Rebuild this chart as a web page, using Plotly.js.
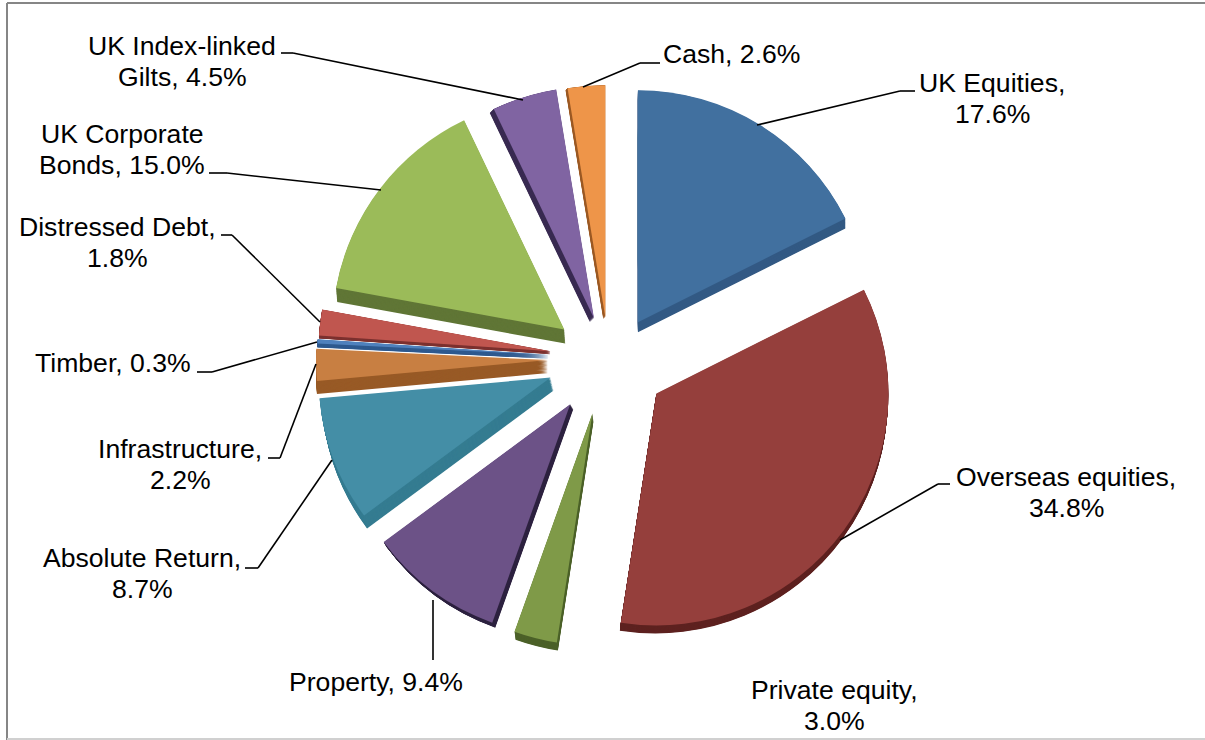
<!DOCTYPE html>
<html><head><meta charset="utf-8">
<script src="https://cdn.plot.ly/plotly-3.0.1.min.js"></script>
<style>html,body{margin:0;padding:0;background:#fff}#c{width:1205px;height:740px}</style>
</head><body><div id="c"></div>
<script>
const W = 1205, H = 740;
const slices = ["UK Equities","Overseas equities","Private equity","Property","Absolute Return","Infrastructure","Timber","Distressed Debt","UK Corporate Bonds","UK Index-linked Gilts","Cash"];
const shares = [17.6,34.8,3.0,9.4,8.7,2.2,0.3,1.8,15.0,4.5,2.6];
const topColors = ["#41709f","#953f3c","#7f9a48","#6c5287","#448ea6","#c87f42","#4f81bd","#c0564f","#9bbb59","#8064a2","#ee9549"];
const sideColors = ["#335a84","#5e2220","#4c6129","#2e2340","#357c91","#985a26","#2f5a8f","#7d3230","#607636","#3a2c52","#9c5a25"];
const pullPx = [55,55,55,55,55,55,55,55,55,50,45];
const nudgeX = [3,6,0,-3,-4,-3,-2,-1,2,3,3];
const nudgeY = [9,1,0,0,-2,-1,-2,-2,3,6,2];
const sideDx = [0,-1,1,3,3,0,0,0,1,-4,-2];
const sideDy = [10,8,8,5,13,13,4,3,14,4,2];
const labelLines = [["UK Equities,","17.6%"],["Overseas equities,","34.8%"],["Private equity,","3.0%"],["Property, 9.4%"],["Absolute Return,","8.7%"],["Infrastructure,","2.2%"],["Timber, 0.3%"],["Distressed Debt,","1.8%"],["UK Corporate","Bonds, 15.0%"],["UK Index-linked","Gilts, 4.5%"],["Cash, 2.6%"]];
const labelX = [992,1066,834,376,142,180,113,117,122,182,731];
const labelY = [83,477,690,682,558,449,363,227,134,46,54];
const lineGap = 31;
const leaders = [
 [[915,91],[900,91],[757,125]],
 [[950,484],[938,484],[840,540]],
 [],
 [[433,600],[433,660]],
 [[245,568],[258,568],[332,460]],
 [[268,458],[280,458],[316,364]],
 [[197,372],[212,372],[317,342]],
 [[221,235],[232,235],[320,322]],
 [[209,173],[227,173],[381,190]],
 [[281,53],[293,53],[523,100]],
 [[660,63],[640,63],[583,87]]
];
const cx = 606, cy = 360, R = 232;
const pulls = pullPx.map(p => p / R);
const half = R * (1 + Math.max(...pulls));
const dom = (dx, dy) => ({
  x: [(cx + dx - half) / W, (cx + dx + half) / W],
  y: [1 - (cy + dy + half) / H, 1 - (cy + dy - half) / H]
});
const base = {
  type: "pie", values: shares, labels: slices, sort: false, direction: "clockwise", rotation: 0,
  pull: pulls, textinfo: "none", hoverinfo: "none", showlegend: false
};
const only = (i, color) => slices.map((_, j) => j === i ? color : "rgba(0,0,0,0)");
const traces = [];
const stepCount = 16;
slices.forEach((s, i) => {
  for (let n = stepCount; n >= 1; n--) {
    const t = n / stepCount;
    traces.push(Object.assign({}, base, {
      domain: dom(nudgeX[i] + sideDx[i] * t, nudgeY[i] + sideDy[i] * t),
      marker: {colors: only(i, sideColors[i]), line: {width: 0}}
    }));
  }
});
slices.forEach((s, i) => {
  traces.push(Object.assign({}, base, {
    domain: dom(nudgeX[i], nudgeY[i]),
    marker: {colors: only(i, topColors[i]), line: {width: 0}}
  }));
});
const annotations = [];
labelLines.forEach((lines, i) => lines.forEach((t, k) => annotations.push({
  text: t, xref: "paper", yref: "paper", x: labelX[i] / W, y: 1 - (labelY[i] + k * lineGap) / H,
  xanchor: "center", yanchor: "middle", align: "center", showarrow: false,
  font: {family: "Liberation Sans, Arial, sans-serif", size: 26.6, color: "#000"}
})));
const seg = (a, b, color, width) => ({type: "line", xref: "paper", yref: "paper",
  x0: a[0] / W, y0: 1 - a[1] / H, x1: b[0] / W, y1: 1 - b[1] / H, line: {color, width}});
const shapes = [];
leaders.forEach(p => { for (let k = 0; k + 1 < p.length; k++) shapes.push(seg(p[k], p[k + 1], "#000", 1.6)); });
shapes.push(seg([7, 3], [1205, 3], "#868686", 2), seg([7, 3], [7, 740], "#868686", 2), seg([7, 739], [1205, 739], "#d0d0d0", 2));
Plotly.newPlot("c", traces, {
  width: W, height: H, margin: {l: 0, r: 0, t: 0, b: 0}, paper_bgcolor: "#fff",
  annotations, shapes
}, {displayModeBar: false, staticPlot: true});
</script></body></html>
